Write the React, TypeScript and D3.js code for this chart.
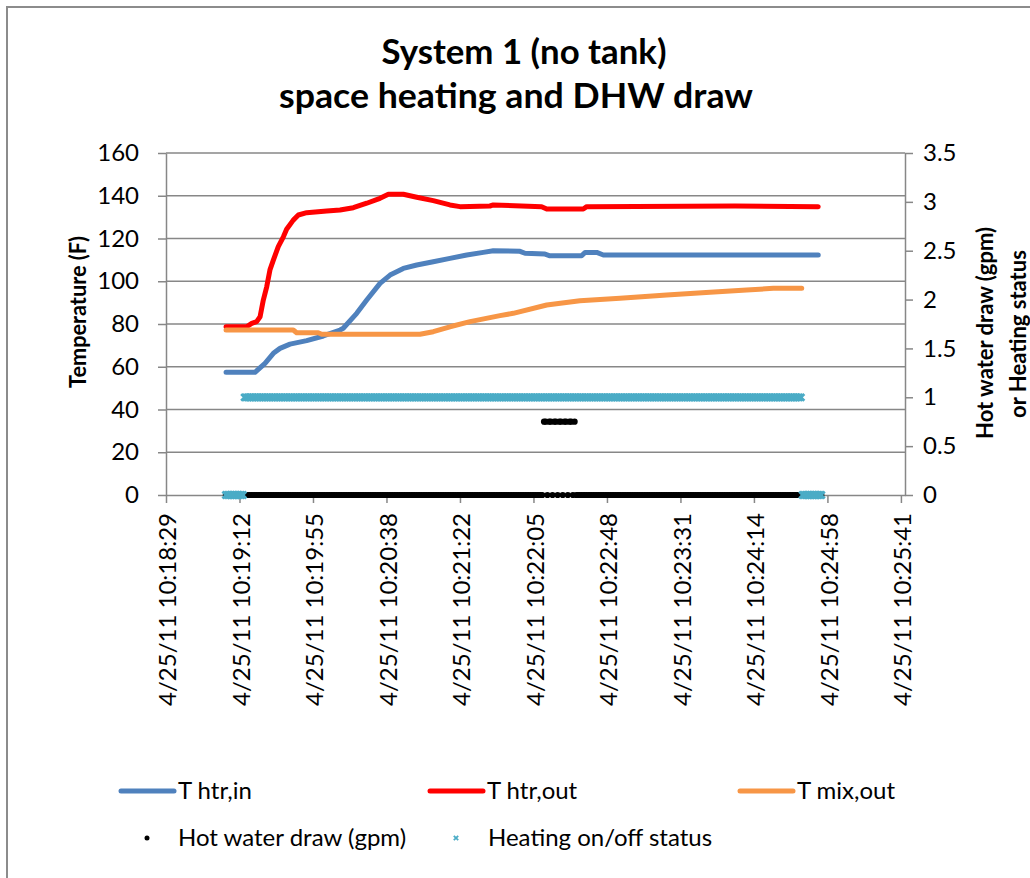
import * as d3 from 'd3';
import { useEffect, useRef } from 'react';

// x values are seconds after 10:19:00 on 4/25/11
const tickLabels = [
    '4/25/11 10:18:29', '4/25/11 10:19:12', '4/25/11 10:19:55', '4/25/11 10:20:38',
    '4/25/11 10:21:22', '4/25/11 10:22:05', '4/25/11 10:22:48', '4/25/11 10:23:31',
    '4/25/11 10:24:14', '4/25/11 10:24:58', '4/25/11 10:25:41',
];
const axisStart = -31.2;
const axisEnd = 403.2;
const majorUnit = 43.2;

const tempTicks = [0, 20, 40, 60, 80, 100, 120, 140, 160];
const flowTicks = [0, 0.5, 1, 1.5, 2, 2.5, 3, 3.5];

const tHtrIn: [number, number][] = [
    [4.1, 57.4], [21.1, 57.4], [27, 61.6], [31.9, 66.3], [35.8, 68.6], [41.7, 70.6],
    [51.5, 72.2], [61.3, 74.4], [71.1, 77.2], [73, 78], [80.9, 85], [86.8, 91.2],
    [94.6, 99], [100.5, 102.9], [108.3, 106], [116.2, 107.6], [125.9, 109.1],
    [135.7, 110.7], [145.6, 112.3], [155.3, 113.5], [161.2, 114.3], [176.9, 114],
    [179.8, 113.1], [191.6, 112.7], [194.5, 111.9], [213.1, 111.9], [215.1, 113.5],
    [222, 113.5], [225.9, 112.3], [352.2, 112.3],
];

const tHtrOut: [number, number][] = [
    [4.1, 78.7], [16.2, 78.7], [19.2, 80.3], [22.1, 81.1], [24.1, 83.4], [26, 91.2],
    [28, 97.4], [29.9, 105.3], [31.9, 109.9], [34.8, 116.2], [37.8, 120.8],
    [39.7, 124.3], [43.6, 128.6], [46.6, 131], [51.5, 132.1], [63.3, 132.9],
    [71.1, 133.3], [78.9, 134.4], [86.8, 136.5], [94.6, 138.8], [99.5, 140.7],
    [108.3, 140.7], [116.2, 139.3], [125.9, 137.7], [135.7, 135.7], [141.6, 134.9],
    [159.2, 135.2], [161.2, 135.7], [189.6, 134.9], [192.6, 133.8], [214.1, 133.8],
    [216.1, 134.9], [303.3, 135.2], [352.2, 134.9],
];

const tMixOut: [number, number][] = [
    [4.1, 77.2], [43.6, 77.2], [45.6, 75.9], [58.3, 75.9], [60.3, 75.2], [118.1, 75.2],
    [125.9, 76.4], [135.7, 78.7], [147.5, 81.1], [165.1, 83.9], [172.9, 85],
    [192.6, 88.9], [212.1, 90.9], [235.7, 92], [263.1, 93.6], [288.6, 94.8],
    [310.1, 95.9], [325.8, 96.7], [342.5, 96.7],
];

// logger writes a sample every second; constant stretches kept as runs
const sampleStep = 1;
const drawRuns = [
    { from: 4, to: 190, value: 0 },
    { from: 210, to: 354, value: 0 },
];
const drawBurst: [number, number][] = [
    [191, 0.75], [192, 0.75], [193, 0], [194, 0.75], [195, 0.75], [196, 0],
    [197, 0.75], [198, 0.75], [199, 0], [200, 0.75], [201, 0.75], [202, 0],
    [203, 0.75], [204, 0.75], [205, 0], [206, 0.75], [207, 0.75], [208, 0],
    [209, 0.75],
];
const statusRuns = [
    { from: 4, to: 14, value: 0 },
    { from: 15, to: 342, value: 1 },
    { from: 343, to: 354, value: 0 },
];

const lineSeries = [
    { name: 'T htr,in', color: '#4F81BD', data: tHtrIn },
    { name: 'T htr,out', color: '#FF0000', data: tHtrOut },
    { name: 'T mix,out', color: '#F79646', data: tMixOut },
];

const font = 'Lato, "Open Sans", sans-serif';
const gray = '#878787';

function expand(runs: { from: number; to: number; value: number }[]) {
    const out: [number, number][] = [];
    runs.forEach(r => {
        d3.range(r.from, r.to + 0.001, sampleStep).forEach(t => out.push([t, r.value]));
    });
    return out;
}

export default function App() {
    const ref = useRef<SVGSVGElement | null>(null);

    useEffect(() => {
        const svg = d3.select(ref.current);
        svg.selectAll('*').remove();

        const width = 1030;
        const height = 878;
        const plot = { left: 166, right: 905, top: 153, bottom: 495 };

        const x = d3.scaleLinear().domain([axisStart, axisEnd]).range([plot.left, plot.right]);
        const yL = d3.scaleLinear().domain([0, 160]).range([plot.bottom, plot.top]);
        const yR = d3.scaleLinear().domain([0, 3.5]).range([plot.bottom, plot.top]);
        const tickTimes = tickLabels.map((_, i) => axisStart + i * majorUnit);

        svg.attr('width', width).attr('height', height);

        svg.append('rect')
            .attr('x', 7).attr('y', 7)
            .attr('width', 1100).attr('height', 1000)
            .attr('fill', '#fff')
            .attr('stroke', '#8c8c8c')
            .attr('stroke-width', 2);

        // title
        const title = svg.append('g')
            .attr('font-family', font)
            .attr('font-weight', 700)
            .attr('font-size', 34)
            .attr('text-anchor', 'middle');
        title.append('text').attr('x', 524).attr('y', 64)
            .attr('textLength', 285).attr('lengthAdjust', 'spacingAndGlyphs')
            .text('System 1 (no tank)');
        title.append('text').attr('x', 516).attr('y', 108)
            .attr('textLength', 474).attr('lengthAdjust', 'spacingAndGlyphs')
            .text('space heating and DHW draw');

        // gridlines
        svg.append('g')
            .selectAll('line')
            .data(tempTicks.filter(d => d > 0))
            .join('line')
            .attr('x1', plot.left).attr('x2', plot.right)
            .attr('y1', d => yL(d)).attr('y2', d => yL(d))
            .attr('stroke', gray)
            .attr('stroke-width', 1.5);

        const styleAxis = (g: any) => {
            g.attr('font-family', font).attr('font-size', 24);
            g.selectAll('.domain, .tick line').attr('stroke', gray).attr('stroke-width', 1.5);
            g.selectAll('text').attr('fill', '#000');
        };

        svg.append('g')
            .attr('transform', `translate(${plot.left},0)`)
            .call(d3.axisLeft(yL).tickValues(tempTicks).tickSize(8).tickSizeOuter(0).tickPadding(19))
            .call(styleAxis);

        svg.append('g')
            .attr('transform', `translate(${plot.right},0)`)
            .call(d3.axisRight(yR).tickValues(flowTicks).tickSize(8).tickSizeOuter(0).tickPadding(10)
                .tickFormat(d3.format('')))
            .call(styleAxis);

        svg.append('g')
            .attr('transform', `translate(0,${plot.bottom})`)
            .call(d3.axisBottom(x).tickValues(tickTimes).tickSize(8).tickSizeOuter(0)
                .tickFormat((_, i) => tickLabels[i]))
            .call(styleAxis)
            .selectAll('text')
            .attr('transform', 'rotate(-90)')
            .attr('text-anchor', 'end')
            .attr('x', -18)
            .attr('y', 1.5)
            .attr('dy', '0.35em');

        // axis titles
        const axisTitles = svg.append('g')
            .attr('font-family', font)
            .attr('font-weight', 700)
            .attr('font-size', 22)
            .attr('text-anchor', 'middle');
        axisTitles.append('text')
            .attr('transform', 'translate(78,312) rotate(-90)')
            .attr('dy', '0.35em')
            .attr('textLength', 152).attr('lengthAdjust', 'spacingAndGlyphs')
            .text('Temperature (F)');
        axisTitles.append('text')
            .attr('transform', 'translate(985,333) rotate(-90)')
            .attr('dy', '0.35em')
            .text('Hot water draw (gpm)');
        axisTitles.append('text')
            .attr('transform', 'translate(1018,334) rotate(-90)')
            .attr('dy', '0.35em')
            .text('or Heating status');

        // temperature lines
        const line = d3.line<[number, number]>()
            .x(d => x(d[0]))
            .y(d => yL(d[1]));

        lineSeries.forEach(s => {
            svg.append('path')
                .datum(s.data)
                .attr('fill', 'none')
                .attr('stroke', s.color)
                .attr('stroke-width', 5)
                .attr('stroke-linejoin', 'round')
                .attr('stroke-linecap', 'round')
                .attr('d', line);
        });

        // hot water draw markers
        const draw = expand(drawRuns).concat(drawBurst);
        svg.append('g')
            .selectAll('circle')
            .data(draw)
            .join('circle')
            .attr('cx', d => x(d[0]))
            .attr('cy', d => yR(d[1]))
            .attr('r', 3.1)
            .attr('fill', '#000');

        // heating status markers
        const xMark = 'M-3.4,-3.4L3.4,3.4M-3.4,3.4L3.4,-3.4';
        svg.append('g')
            .selectAll('path')
            .data(expand(statusRuns))
            .join('path')
            .attr('transform', d => `translate(${x(d[0])},${yR(d[1])})`)
            .attr('d', xMark)
            .attr('stroke', '#4BACC6')
            .attr('stroke-width', 2.8)
            .attr('fill', 'none');

        // legend
        const legend = svg.append('g')
            .attr('font-family', font)
            .attr('font-size', 24);
        const legendX = [121, 430, 740];
        lineSeries.forEach((s, i) => {
            legend.append('line')
                .attr('x1', legendX[i]).attr('x2', legendX[i] + 53)
                .attr('y1', 791).attr('y2', 791)
                .attr('stroke', s.color)
                .attr('stroke-width', 5)
                .attr('stroke-linecap', 'round');
            legend.append('text')
                .attr('x', legendX[i] + 57).attr('y', 791)
                .attr('dy', '0.35em')
                .text(s.name);
        });
        legend.append('circle').attr('cx', 147).attr('cy', 838).attr('r', 2.5).attr('fill', '#000');
        legend.append('text').attr('x', 178).attr('y', 838).attr('dy', '0.35em').text('Hot water draw (gpm)');
        legend.append('path')
            .attr('transform', 'translate(456,838)')
            .attr('d', 'M-2.2,-2.2L2.2,2.2M-2.2,2.2L2.2,-2.2')
            .attr('stroke', '#4BACC6')
            .attr('stroke-width', 1.8);
        legend.append('text').attr('x', 488).attr('y', 838).attr('dy', '0.35em').text('Heating on/off status');
    }, []);

    return <svg ref={ref} style={{ position: 'absolute', left: 0, top: 0 }}></svg>;
}
